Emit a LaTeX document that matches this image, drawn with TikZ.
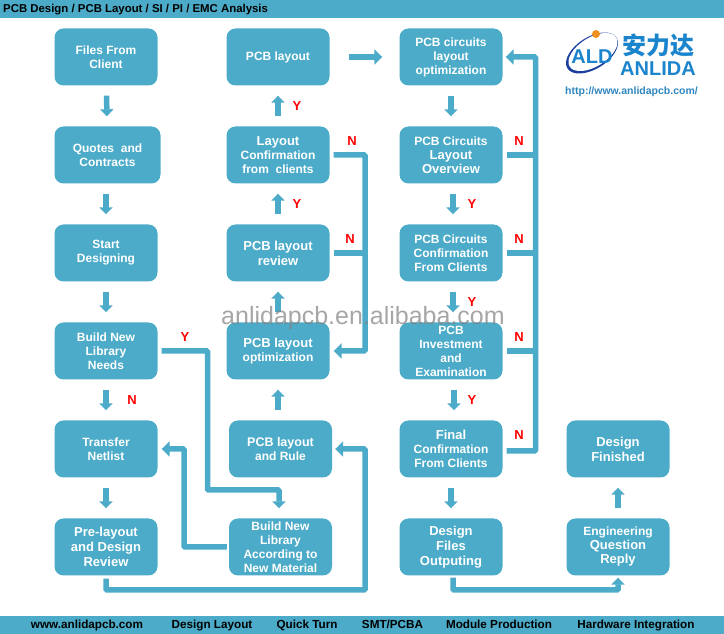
\documentclass[tikz,border=0pt]{standalone}
\usepackage{fontspec}
\setmainfont{Liberation Sans}
\newfontfamily\cjkfont{Noto Sans CJK SC}
\usetikzlibrary{arrows.meta, calc, positioning}
\definecolor{barblue}{HTML}{4CABC8}
\definecolor{logoblue}{HTML}{1A84CC}
\definecolor{logodark}{HTML}{1C3F9E}
\definecolor{logoorange}{HTML}{F0901E}
\definecolor{linkblue}{HTML}{2F86BE}
\newcommand{\bigface}{\fontsize{13}{14}\selectfont}

\begin{document}
\begin{tikzpicture}[x=1pt, y=1pt, node distance=98pt]
	\tikzstyle{stage} = [fill=barblue, rounded corners=9pt, minimum width=103pt, minimum height=57pt, inner sep=0pt, align=center, text=white, font=\fontsize{12}{14}\selectfont\bfseries]
	\tikzstyle{bigstage} = [stage, font=\fontsize{13}{15}\selectfont\bfseries]
	\tikzstyle{flow} = [draw=barblue, line width=5.5pt, rounded corners=1pt, -{Triangle[width=13pt, length=7pt]}, shorten >=10pt, shorten <=10pt]
	\tikzstyle{bigflow} = [flow, -{Triangle[width=15pt, length=8pt]}]
	\tikzstyle{branch} = [draw=barblue, line width=6pt, shorten <=4pt]
	\tikzstyle{flag} = [text=red, font=\fontsize{13}{14}\selectfont\bfseries, inner sep=0pt]
	\tikzstyle{band} = [fill=barblue, minimum width=724pt, minimum height=18pt, inner sep=0pt]
	\tikzstyle{bandtext} = [text=black, anchor=base, font=\fontsize{11.7}{14}\selectfont\bfseries, inner sep=0pt]

	\useasboundingbox (0,0) rectangle (724,634);

	\path
		node[band] (topband) at (362,625) {}
		node[band] (bottomband) at (362,9) {}
		node[bandtext, anchor=base west, font=\fontsize{11.4}{14}\selectfont\bfseries] (title) at (3,621) {PCB Design / PCB Layout / SI / PI / EMC Analysis}
		node[bandtext] (site) at (87,5) {www.anlidapcb.com}
		node[bandtext] (design) at (212,5) {Design Layout}
		node[bandtext] (quick) at (307,5) {Quick Turn}
		node[bandtext] (smt) at (392.5,5) {SMT/PCBA}
		node[bandtext] (module) at (499,5) {Module Production}
		node[bandtext] (hardware) at (636,5) {Hardware Integration}
	;

	\path
		node[stage] (files) at (106,577) {Files From\\Client}
		node[stage, below of=files, xshift=1.5pt, minimum width=106pt] (quotes) {Quotes~ and\\Contracts}
		node[stage, below of=files, yshift=-98pt] (start) {Start\\Designing}
		node[stage, below of=start] (need) {Build New\\Library\\Needs}
		node[stage, below of=need] (transfer) {Transfer\\Netlist}
		node[bigstage, below of=transfer] (prelayout) {Pre-layout\\and Design\\Review}

		node[stage] (layout) at (278,577) {PCB layout}
		node[stage, below of=layout] (confirm) {{\bigface Layout}\\Confirmation\\from~ clients}
		node[bigstage, below of=confirm] (review) {PCB layout\\review}
		node[stage, below of=review] (optim) {{\bigface PCB layout}\\optimization}
		node[stage, below of=optim, xshift=2.5pt] (rule) {{\fontsize{12.5}{14}\selectfont PCB layout}\\and Rule}
		node[stage, below of=rule] (newlib) {Build New\\Library\\According to\\New Material}

		node[stage] (circuits) at (451,577) {PCB circuits\\layout\\optimization}
		node[stage, below of=circuits] (overview) {PCB Circuits\\{\bigface Layout}\\{\bigface Overview}}
		node[stage, below of=overview] (clients) {PCB Circuits\\Confirmation\\From Clients}
		node[stage, below of=clients] (invest) {PCB\\Investment\\and\\Examination}
		node[stage, below of=invest] (final) {{\bigface Final}\\Confirmation\\From Clients}
		node[bigstage, below of=final] (output) {Design\\Files\\Outputing}

		node[bigstage] (finished) at (618,185) {Design\\Finished}
		node[stage, below of=finished] (reply) {Engineering\\{\bigface Question}\\{\bigface Reply}}
	;

	\coordinate (busright) at (535.5,57);
	\coordinate (busleft) at (365,351);
	\coordinate (ytrack) at (207.5,144);
	\coordinate (libtrack) at (184,185);
	\coordinate (basetrack) at (365,44);
	\coordinate (outtrack) at (535,44);

	\path
		(files) edge[flow] (quotes)
		(quotes.south -| start) edge[flow] (start)
		(start) edge[flow] (need)
		(need) edge[flow] (transfer)
		(transfer) edge[flow] (prelayout)
		(rule.north -| optim) edge[flow] (optim)
		(optim) edge[flow] (review)
		(review) edge[flow] (confirm)
		(confirm) edge[flow] (layout)
		(layout.east) edge[bigflow, line width=6.5pt, shorten <=19pt, shorten >=17pt] (circuits.west)
		(circuits) edge[flow] (overview)
		([xshift=2pt]overview.south) edge[flow] ([xshift=2pt]clients.north)
		([xshift=2pt]clients.south) edge[flow] ([xshift=2pt]invest.north)
		([xshift=3pt]invest.south) edge[flow] ([xshift=3pt]final.north)
		(final) edge[flow] (output)
		(reply) edge[flow] (finished)
	;

	\draw[bigflow, shorten <=4pt, shorten >=3pt] ([yshift=-2pt]final.east) -- ([yshift=-2pt]final.east -| busright) |- (circuits.east);
	\draw[branch] (overview.east) -- (overview.east -| busright);
	\draw[branch] (clients.east) -- (clients.east -| busright);
	\draw[branch] (invest.east) -- (invest.east -| busright);
	\draw[bigflow, shorten <=4pt, shorten >=4pt] (confirm.east) -- (confirm.east -| busleft) |- (optim.east);
	\draw[branch] (review.east) -- (review.east -| busleft);
	\draw[flow, shorten <=4pt, shorten >=10pt] (need.east) -| (ytrack) -| ([xshift=-1.5pt]newlib.north);
	\draw[bigflow, shorten <=2pt, shorten >=4pt] (newlib.west) -- (newlib.west -| libtrack) |- (transfer.east);
	\draw[bigflow, shorten <=3pt, shorten >=3pt] (prelayout.south) |- (basetrack) |- (rule.east);
	\draw[flow, shorten <=2pt, shorten >=2pt] ([xshift=2pt]output.south) |- (outtrack) -| (reply.south);

	\path
		node[flag] (no1) at (132,234) {N}
		node[flag] (yes1) at (185,297) {Y}
		node[flag] (no2) at (352,493) {N}
		node[flag] (yes2) at (297,528) {Y}
		node[flag] (yes3) at (297,430) {Y}
		node[flag] (no3) at (350,395) {N}
		node[flag] (no4) at (519,493) {N}
		node[flag] (yes4) at (472,430) {Y}
		node[flag] (no5) at (519,395) {N}
		node[flag] (yes5) at (472,332) {Y}
		node[flag] (no6) at (519,297) {N}
		node[flag] (yes6) at (472,234) {Y}
		node[flag] (no7) at (519,199) {N}
	;

	\fill[logodark, rotate around={32:(592,581)}] (592,581) ellipse (29pt and 16pt);
	\fill[white, rotate around={32:(593,582)}] (593,582) ellipse (27.5pt and 14.5pt);
	\fill[logoorange] (596,600) circle (4pt);
	\path
		node[text=logoblue, font=\fontsize{20}{20}\selectfont\bfseries, inner sep=0pt] (ald) at (592,577) {ALD}
		node[text=logoblue, font=\fontsize{24}{24}\cjkfont\bfseries, inner sep=0pt] (brandcn) at (658,589) {安力达}
		node[text=logoblue, font=\fontsize{20}{22}\selectfont\bfseries, inner sep=0pt] (brand) at (658,565) {ANLIDA}
		node[text=linkblue, font=\fontsize{10.5}{12}\selectfont\bfseries, inner sep=0pt] (url) at (631.5,542) {http://www.anlidapcb.com/}
		node[text=gray, opacity=0.7, font=\fontsize{25}{27}\selectfont, inner sep=0pt] (mark) at (363,315.5) {anlidapcb.en.alibaba.com}
	;
\end{tikzpicture}
\end{document}
